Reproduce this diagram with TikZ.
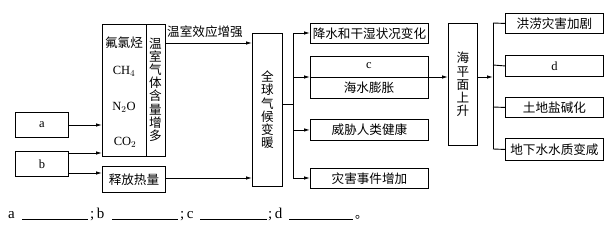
\documentclass[tikz,border=0pt]{standalone}
\usepackage{fontspec}
\setmainfont{Liberation Serif}
\newfontfamily\cjk{Noto Sans CJK SC}
\usetikzlibrary{arrows.meta}
\begin{document}
\begin{tikzpicture}[x=1pt,y=-1pt,
  bx/.style={draw,line width=0.9pt,inner sep=0pt},
  ln/.style={line width=0.9pt},
  ar/.style={line width=0.9pt,-{Latex[length=6pt,width=3.5pt]}},
  lab/.style={font=\cjk\fontsize{12.6}{13}\selectfont,inner sep=0pt},
  vt/.style={font=\cjk\fontsize{12.6}{13.2}\selectfont,align=center,inner sep=0pt},
  lt/.style={font=\fontsize{12.5}{13}\selectfont,inner sep=0pt},
  bt/.style={font=\fontsize{15}{16}\selectfont,inner sep=0pt}]
\useasboundingbox (0,0) rectangle (614,233);
% left boxes
\node[bx,minimum width=53pt,minimum height=25pt,anchor=north west] (a) at (15,112) {};
\node[lt] at (a) {a};
\node[bx,minimum width=53pt,minimum height=25pt,anchor=north west] (b) at (15,151) {};
\node[lt] at (b) {b};
% gas box
\node[bx,minimum width=63pt,minimum height=132pt,anchor=north west] (gas) at (102,24) {};
\coordinate (gdt) at (146,24);
\coordinate (gdb) at (146,156);
\draw[ln] (gdt) -- (gdb);
\node[lab] (g1) at (124,43) {氟氯烃};
\node[lt] (g2) at (124,71) {CH$_4$};
\node[lt] (g3) at (124,107) {N$_2$O};
\node[lt] (g4) at (125,142) {CO$_2$};
\node[vt] (g5) at (155.5,89.5) {温\\室\\气\\体\\含\\量\\增\\多};
% heat box
\node[bx,minimum width=63pt,minimum height=26pt,anchor=north west] (heat) at (102,166) {};
\node[lab] at (heat) {释放热量};
% arrows from a, b
\draw[ar] (a.east |- 0,125) -- (gas.west |- 0,125);
\draw[ar] (b.east |- 0,153) -- (gas.west |- 0,153);
\draw[ar] (b.east |- 0,173) -- (heat.west |- 0,173);
% global warming box
\node[bx,minimum width=30pt,minimum height=153pt,anchor=north west] (gw) at (252,33) {};
\node[vt] at (gw) {全\\球\\气\\候\\变\\暖};
\draw[ar] (gas.east |- 0,43) -- (gw.west |- 0,43);
\node[lab] (ghe) at (205,32) {温室效应增强};
\draw[ar] (heat.east |- 0,178) -- (gw.west |- 0,178);
% middle boxes
\node[bx,minimum width=118pt,minimum height=20pt,anchor=north west] (m1) at (310,23) {};
\node[lab] at (m1) {降水和干湿状况变化};
\node[bx,minimum width=118pt,minimum height=42pt,anchor=north west] (m2) at (310,56) {};
\node[lt] at (369,66) {c};
\node[lab] at (369,88) {海水膨胀};
\node[bx,minimum width=118pt,minimum height=21pt,anchor=north west] (m3) at (310,119) {};
\node[lab] at (m3) {威胁人类健康};
\node[bx,minimum width=118pt,minimum height=20pt,anchor=north west] (m4) at (310,168) {};
\node[lab] at (m4) {灾害事件增加};
% branching from gw
\coordinate (br) at (293,104);
\coordinate (brt) at (293,33);
\coordinate (brb) at (293,178);
\draw[ln] (gw.east |- br) -- (br);
\draw[ln] (brt) -- (brb);
\draw[ar] (brt) -- (m1.west |- brt);
\draw[ar] (293,77) -- (m2.west |- 0,77);
\draw[ln] (m2.west |- 0,77) -- (m2.east |- 0,77);
\draw[ar] (brt |- m3) -- (m3.west);
\draw[ar] (brb) -- (m4.west |- brb);
% sea level box
\node[bx,minimum width=29pt,minimum height=122pt,anchor=north west] (sea) at (448,23) {};
\node[vt] at (sea) {海\\平\\面\\上\\升};
\draw[ar] (m2.east |- 0,77) -- (sea.west |- 0,77);
% right branches
\coordinate (rb) at (493,77);
\coordinate (rbt) at (493,23);
\coordinate (rbb) at (493,149);
\draw[ar] (sea.east |- rb) -- (rb);
\draw[ln] (rbt) -- (rbb);
\node[bx,minimum width=98pt,minimum height=20pt,anchor=north west] (r1) at (505,13) {};
\node[lab] at (r1) {洪涝灾害加剧};
\node[bx,minimum width=98pt,minimum height=21pt,anchor=north west] (r2) at (505,55) {};
\node[lt] at (r2) {d};
\node[bx,minimum width=98pt,minimum height=20pt,anchor=north west] (r3) at (505,97) {};
\node[lab] at (r3) {土地盐碱化};
\node[bx,minimum width=98pt,minimum height=22pt,anchor=north west] (r4) at (505,138) {};
\node[lab] at (r4) {地下水水质变咸};
\draw[ln] (rbt) -- (r1.west);
\draw[ln] (493,65) -- (r2.west);
\draw[ln] (493,107) -- (r3.west);
\draw[ln] (rbb) -- (r4.west);
% bottom line
\tikzset{ul/.style={line width=0.5pt}}
\node[bt,anchor=base west] (ta) at (8,218) {a};
\draw[ul] (22,219) -- (88,219);
\node[bt,anchor=base west] (tb) at (90,218) {;\,b};
\draw[ul] (112,219) -- (178,219);
\node[bt,anchor=base west] (tc) at (180,218) {;\,c};
\draw[ul] (200,219) -- (267,219);
\node[bt,anchor=base west] (td) at (268,218) {;\,d};
\draw[ul] (289,219) -- (353,219);
\node[lab,anchor=base west] (tp) at (355,218) {。};
\end{tikzpicture}
\end{document}
